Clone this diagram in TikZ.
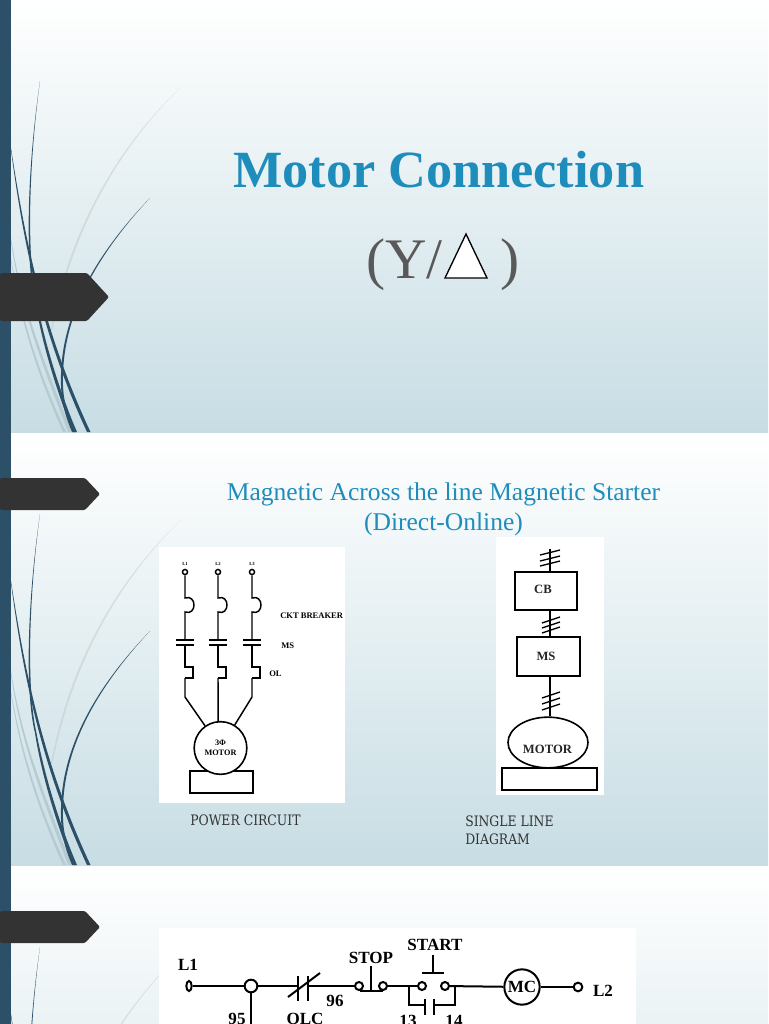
\documentclass[tikz,border=0pt]{standalone}
\usepackage{fontspec}
\setmainfont{Liberation Serif}
\newfontfamily\slab[FakeStretch=0.86]{DejaVu Serif}
\usetikzlibrary{shapes.geometric}
\definecolor{teal}{HTML}{1F8DBB}
\definecolor{barc}{HTML}{2C5068}
\definecolor{tagc}{HTML}{333333}
\definecolor{bgend}{HTML}{C7DDE4}
\definecolor{lightc}{HTML}{B5CAD1}
\tikzset{
  wire/.style={draw=black,line width=1.1pt,line join=miter},
  term/.style={circle,draw=black,fill=white,line width=1.1pt,inner sep=0pt,minimum size=3.8pt},
  bigwire/.style={draw=black,line width=1.5pt},
  bigterm/.style={circle,draw=black,fill=white,line width=1.5pt,inner sep=0pt,minimum size=6pt},
  block/.style={rectangle,draw=black,line width=1.2pt,inner sep=0pt},
  small/.style={font=\bfseries\fontsize{6.4}{7}\selectfont,inner sep=0pt},
  tiny/.style={font=\bfseries\fontsize{3.5}{4}\selectfont,inner sep=0pt},
  ctext/.style={font=\bfseries\fontsize{12.8}{14}\selectfont,inner sep=0pt},
  blocktext/.style={font=\bfseries\fontsize{9.5}{10}\selectfont,inner sep=0pt,text=black!85},
  panel/.style={fill=white,draw=none},
  note/.style={font=\slab\fontsize{10.8}{13.5}\selectfont,text=black!80,inner sep=0pt,anchor=base west},
}
\newcommand{\slidebg}[2]{%
  \shade[top color=white,bottom color=bgend] (0,#1) rectangle (768,#2);
  \begin{scope}
    \clip (11,#1) rectangle (768,#2);
    \begin{scope}[shift={(0,#1)}]
      \fill[black!22,opacity=.5] (180,88) .. controls (115,150) and (70,230) .. (51,330) -- (52.5,330) .. controls (72,232) and (116,151) .. (180,88) -- cycle;
      \fill[lightc] (8,215) .. controls (15,300) and (45,370) .. (68,432) -- (71.5,432) .. controls (48,370) and (17,300) .. (8,215) -- cycle;
      \fill[lightc] (8,240) .. controls (18,320) and (40,380) .. (63,432) -- (66,432) .. controls (42,380) and (20,320) .. (8,240) -- cycle;
      \fill[barc] (40,81) .. controls (27,170) and (25,260) .. (35,300) .. controls (42,345) and (58,395) .. (73,432) -- (77,432) .. controls (61,395) and (45,345) .. (36.5,300) .. controls (27,260) and (28,170) .. (40,81) -- cycle;
      \fill[barc] (9,135) .. controls (20,220) and (35,320) .. (87,432) -- (90.5,432) .. controls (38,320) and (22,220) .. (9,135) -- cycle;
      \fill[barc] (150,198) .. controls (90,260) and (62,320) .. (61,375) .. controls (60,400) and (66,418) .. (72,432) -- (75.5,432) .. controls (68,418) and (62,400) .. (63,375) .. controls (64,320) and (91,261) .. (150,198) -- cycle;
    \end{scope}
  \end{scope}
}
\begin{document}
\begin{tikzpicture}[x=0.75pt,y=-0.75pt]
\useasboundingbox (0,0) rectangle (768,1024);
\fill[white] (0,0) rectangle (768,1024);
\slidebg{0}{432}
\slidebg{433}{865}
\begin{scope}
  \clip (0,866) rectangle (768,1024);
  \shade[top color=white,bottom color=bgend] (0,866) rectangle (768,1298);
  \begin{scope}[shift={(0,866)}]
    \fill[black!22,opacity=.5] (180,88) .. controls (115,150) and (70,230) .. (51,330) -- (52.5,330) .. controls (72,232) and (116,151) .. (180,88) -- cycle;
    \fill[barc] (40,81) .. controls (27,170) and (25,260) .. (35,300) -- (36.5,300) .. controls (27,260) and (28,170) .. (40,81) -- cycle;
    \fill[barc] (9,135) .. controls (20,220) and (35,320) .. (87,432) -- (90.5,432) .. controls (38,320) and (22,220) .. (9,135) -- cycle;
  \end{scope}
\end{scope}
\fill[barc] (0,0) rectangle (11,1024);
\fill[tagc,rounded corners=1pt] (0,273) -- (87,273) -- (109,297) -- (87,321) -- (0,321) -- cycle;
\fill[tagc,rounded corners=1pt] (0,478) -- (85,478) -- (100,494) -- (85,510) -- (0,510) -- cycle;
\fill[tagc,rounded corners=1pt] (0,911) -- (85,911) -- (100,927) -- (85,943) -- (0,943) -- cycle;

% slide 1 text
\node[anchor=base west,inner sep=0pt,text=teal,font=\bfseries\fontsize{39.2}{44}\selectfont] (title) at (233,187) {Motor Connection};
\node[anchor=base west,inner sep=0pt,text=black!65,font=\fontsize{43}{48}\selectfont] (ya) at (366,278) {(Y/};
\node[anchor=base west,inner sep=0pt,text=black!65,font=\fontsize{43}{48}\selectfont] (yb) at (500,278) {)};
\filldraw[fill=white,draw=black,line width=1pt] (445,278) -- (487,278) -- (466,234) -- cycle;

% slide 2 title
\node[anchor=base,inner sep=0pt,text=teal,font=\fontsize{19.15}{22}\selectfont] (h1) at (443.5,500) {Magnetic Across the line Magnetic Starter};
\node[anchor=base,inner sep=0pt,text=teal,font=\fontsize{19.15}{22}\selectfont] (h2) at (443.5,530) {(Direct-Online)};

% power circuit
\fill[panel] (159,547) rectangle (345,803);
\draw[block] (190,771) rectangle (253,793);
\node[circle,draw=black,fill=white,line width=1.2pt,inner sep=0pt,minimum size=39.5pt] (m) at (220.5,748) {};
\node[inner sep=0pt,font=\bfseries\fontsize{6.2}{7}\selectfont] (m1) at (220.5,743) {3Φ};
\node[inner sep=0pt,font=\bfseries\fontsize{6.2}{7}\selectfont] (m2) at (220.5,753) {MOTOR};
\foreach \n/\x/\l in {a/185/L1,b/218/L2,c/252/L3}{
  \node[term] (t\n) at (\x,572) {};
  \node[tiny] (lab\n) at (\x,563.5) {\l};
  \draw[wire] (t\n) -- (\x,598) .. controls (\x+12,594) and (\x+12,616) .. (\x,612) -- (\x,640);
  \draw[wire] (\x-9,640) -- (\x+9,640);
  \draw[wire] (\x-9,645) -- (\x+9,645);
  \draw[wire] (\x,645) -- (\x,667) -- (\x+8,667) -- (\x+8,678) -- (\x,678);
}
\draw[wire] (185,678) -- (185,697) -- (m);
\draw[wire] (218,678) -- (m.95);
\draw[wire] (252,678) -- (252,697) -- (m);
\node[small,anchor=west] (ckt) at (280,615.5) {CKT BREAKER};
\node[small,anchor=west] (ms1) at (281,645.5) {MS};
\node[small,anchor=west] (ol) at (269,673.5) {OL};
\node[note] (pc) at (190,825) {POWER CIRCUIT};

% single line diagram
\fill[panel] (496,537) rectangle (604,795);
\draw[block] (502,768) rectangle (597,790);
\node[ellipse,draw=black,fill=white,line width=1.2pt,inner sep=0pt,minimum width=60pt,minimum height=38pt] (mot) at (548,742.5) {};
\node[blocktext] (mott) at (547.5,749) {MOTOR};
\node[block,minimum width=46.5pt,minimum height=28.5pt] (cb) at (546,591) {};
\node[blocktext] (cbt) at (543,589) {CB};
\node[block,minimum width=47pt,minimum height=29pt] (ms) at (548.5,656.5) {};
\node[blocktext] (mst) at (546,656) {MS};
\coordinate (top) at (550,549);
\draw[line width=1.2pt] (top) -- (top |- cb.north);
\draw[line width=1.2pt] (top |- cb.south) -- (top |- ms.north);
\draw[line width=1.2pt] (top |- ms.south) -- (top |- mot.north);
\foreach \y in {555,561,566}{\draw[line width=1pt] (540,\y) -- (560,\y-5);}
\foreach \y in {623,628,633}{\draw[line width=1pt] (542,\y) -- (560,\y-6);}
\foreach \y in {698,704,710}{\draw[line width=1pt] (542,\y) -- (560,\y-6);}
\node[note] (sl1) at (465,826.5) {SINGLE LINE};
\node[note] (sl2) at (465,844) {DIAGRAM};

% control circuit
\fill[panel] (159,928) rectangle (636,1024);
\node[ellipse,draw=black,fill=white,line width=1.5pt,inner sep=0pt,minimum width=4pt,minimum height=7.5pt] (tl1) at (189,986) {};
\node[bigterm,minimum size=9.5pt] (j) at (251,986) {};
\coordinate (olca) at (298,986);
\coordinate (olcb) at (308,986);
\node[bigterm] (s1) at (359,986) {};
\node[bigterm] (s2) at (383,986) {};
\node[bigterm] (p1) at (422,986) {};
\node[bigterm] (p2) at (445,986) {};
\node[circle,draw=black,fill=white,line width=1.5pt,inner sep=0pt,minimum size=26.5pt,font=\bfseries\fontsize{12.8}{14}\selectfont] (mc) at (522,987) {MC};
\node[bigterm,minimum size=6.5pt] (tl2) at (578,987) {};
\coordinate (down) at (251,1024);
\draw[bigwire] (tl1) -- (j);
\draw[bigwire] (j) -- (down);
\draw[bigwire] (j) -- (olca);
\draw[bigwire] (olcb) -- (s1);
\draw[bigwire] (298,976) -- (298,1001);
\draw[bigwire] (308,976) -- (308,1001);
\draw[bigwire] (288,997) -- (320,973);
\draw[bigwire] (360,991) -- (383,991);
\draw[bigwire] (371,966) -- (371,991);
\draw[bigwire] (s2) -- (p1);
\draw[bigwire] (433,955) -- (433,973);
\draw[bigwire] (422,973) -- (444,973);
\draw[bigwire] (409,986) -- (409,1005) -- (425,1005);
\draw[bigwire] (425,999) -- (425,1015);
\draw[bigwire] (434,999) -- (434,1015);
\draw[bigwire] (434,1005) -- (455,1005) -- (455,986);
\draw[bigwire] (p2) -- (mc);
\draw[bigwire] (mc) -- (tl2);
\node[ctext] (l1t) at (188,965) {L1};
\node[ctext] (stopt) at (371,958) {STOP};
\node[ctext] (startt) at (435,945) {START};
\node[ctext] (l2t) at (603,991) {L2};
\node[ctext] (n96) at (335,1001) {96};
\node[ctext] (n95) at (237,1019) {95};
\node[ctext] (olct) at (305,1019) {OLC};
\node[ctext] (n13) at (408,1021) {13};
\node[ctext] (n14) at (454,1021) {14};
\end{tikzpicture}
\end{document}
